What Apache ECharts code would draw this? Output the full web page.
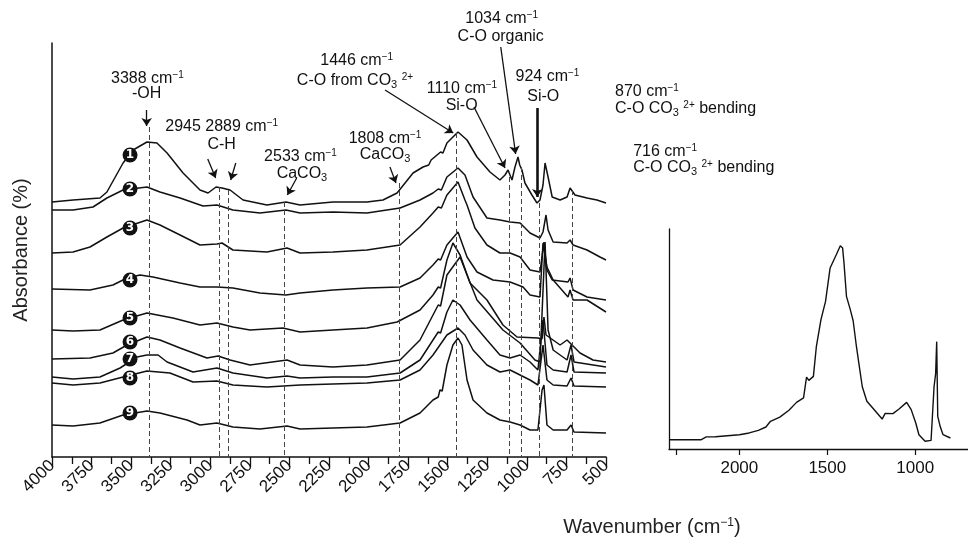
<!DOCTYPE html>
<html><head><meta charset="utf-8">
<script src="https://cdn.jsdelivr.net/npm/echarts@6/dist/echarts.min.js"></script>
<style>html,body{margin:0;padding:0;background:#fff}#c{width:968px;height:542px}</style>
</head><body><div id="c"></div>
<script>
// ---------- data (wavenumber cm-1, offset absorbance, arbitrary units) ----------
const spectrum1 = [[4000,255],[3867,257],[3697,259],[3653,265],[3551,294],[3488,307],[3400,315],[3337,314],[3273,304],[3172,284],[3065,267],[3014,264],[2964,270],[2926,269],[2875,267],[2793,257],[2642,252],[2522,255],[2433,252],[2225,255],[2010,255],[1909,257],[1820,264],[1719,284],[1656,290],[1620,292],[1605,297],[1593,297],[1545,305],[1530,304],[1505,314],[1435,325],[1378,317],[1315,300],[1233,285],[1170,277],[1138,282],[1119,287],[1094,277],[1075,290],[1056,300],[1045,292],[1031,287],[1012,274],[968,262],[936,254],[917,257],[898,272],[885,294],[866,280],[840,260],[790,257],[746,260],[727,269],[696,262],[620,259],[557,257],[500,254]];
const spectrum2 = [[4000,247],[3867,247],[3741,250],[3653,259],[3551,267],[3400,270],[3318,265],[3191,259],[3046,251],[2958,252],[2857,247],[2686,244],[2522,247],[2433,244],[2225,245],[2010,244],[1801,249],[1675,257],[1593,264],[1560,268],[1540,267],[1505,280],[1435,289],[1391,282],[1340,260],[1252,239],[1170,237],[1106,235],[1043,234],[980,224],[917,219],[898,225],[879,242],[866,227],[834,215],[746,214],[727,217],[708,212],[620,207],[538,200],[500,197]];
const spectrum3 = [[4000,204],[3867,205],[3760,210],[3653,220],[3551,229],[3400,237],[3318,232],[3191,222],[3065,212],[2958,213],[2926,214],[2857,207],[2642,205],[2515,209],[2433,204],[2225,205],[2010,207],[1801,212],[1675,230],[1593,244],[1560,250],[1540,249],[1505,262],[1435,275],[1391,257],[1378,252],[1328,229],[1252,212],[1170,204],[1106,204],[1043,200],[980,187],[917,185],[892,215],[873,187],[840,177],[740,175],[727,179],[708,167],[620,160],[500,157]];
const spectrum4 = [[4000,168],[3760,167],[3615,172],[3526,179],[3444,182],[3362,180],[3191,174],[3065,170],[2958,170],[2857,169],[2686,164],[2522,162],[2433,164],[2225,167],[2010,169],[1801,170],[1675,179],[1593,192],[1560,198],[1545,197],[1505,212],[1435,225],[1378,200],[1315,185],[1214,177],[1106,175],[1024,170],[980,162],[917,160],[898,214],[873,190],[834,177],[740,160],[727,167],[708,157],[620,157],[500,145]];
const spectrum5 = [[4000,127],[3867,126],[3697,127],[3551,137],[3400,144],[3236,139],[3065,132],[2958,134],[2857,130],[2749,127],[2541,129],[2433,125],[2225,127],[2010,129],[1820,135],[1675,147],[1593,162],[1560,170],[1545,169],[1505,197],[1467,214],[1422,202],[1359,174],[1252,157],[1151,132],[1062,120],[930,119],[904,118],[892,140],[879,122],[790,112],[746,117],[664,104],[582,97],[500,95]];
const spectrum6 = [[4000,98],[3760,99],[3615,104],[3526,112],[3400,120],[3318,117],[3191,109],[3021,99],[2951,101],[2875,97],[2749,92],[2515,97],[2433,92],[2225,90],[2010,92],[1801,97],[1675,117],[1593,142],[1560,152],[1545,151],[1505,182],[1422,200],[1378,182],[1315,157],[1233,142],[1151,127],[1043,114],[949,97],[917,95],[885,215],[866,127],[834,107],[746,97],[721,112],[702,95],[500,90]];
const spectrum7 = [[4000,80],[3867,78],[3697,80],[3570,89],[3463,100],[3400,102],[3330,102],[3273,95],[3109,85],[2958,89],[2857,84],[2642,79],[2515,81],[2433,79],[2225,80],[2010,80],[1801,84],[1675,97],[1593,117],[1560,125],[1545,124],[1505,145],[1467,157],[1422,152],[1359,137],[1252,117],[1170,102],[1106,99],[1043,102],[980,95],[930,87],[898,137],[873,92],[834,87],[746,85],[721,102],[702,85],[500,84]];
const spectrum8 = [[4000,74],[3867,72],[3697,74],[3551,80],[3400,86],[3255,84],[3109,75],[2958,76],[2857,72],[2642,70],[2433,72],[2225,73],[2010,74],[1801,77],[1675,87],[1593,102],[1505,122],[1435,129],[1391,122],[1340,107],[1252,92],[1170,85],[1106,87],[1043,82],[980,77],[930,72],[898,112],[873,77],[834,72],[746,71],[721,79],[702,71],[500,70]];
const spectrum9 = [[4000,32],[3867,31],[3697,34],[3551,42],[3400,46],[3318,44],[3147,37],[3065,32],[2958,34],[2857,30],[2686,28],[2515,31],[2433,28],[2225,29],[2010,30],[1801,34],[1675,44],[1593,57],[1560,60],[1549,67],[1535,66],[1505,92],[1467,112],[1435,119],[1410,112],[1378,77],[1340,57],[1252,44],[1170,37],[1106,35],[1043,32],[980,27],[930,27],[904,67],[892,72],[873,32],[834,27],[746,27],[721,32],[702,25],[500,24]];
const spectra = [spectrum1,spectrum2,spectrum3,spectrum4,spectrum5,spectrum6,spectrum7,spectrum8,spectrum9];

// numbered sample markers: [wavenumber, value]
const sampleNames = ['1','2','3','4','5','6','7','8','9'];
const sampleMarkers = [[3507,302],[3507,268],[3507,229],[3507,177],[3507,139],[3507,115],[3507,98],[3507,79],[3507,44]];

// assigned bands: [wavenumber, top of dashed guide]
const bandLines = [[3388,330],[2945,270],[2889,267],[2533,255],[1808,274],[1446,324],[1110,280],[1034,290],[924,254],[716,267]];

// annotation arrows: [[from], [to], width]
const arrows = [
  [[3402,347],[3402,331],1.3],
  [[3016,298],[2966,279],1.3],
  [[2839,294],[2871,277],1.3],
  [[2454,279],[2513,262],1.3],
  [[1865,290],[1827,274],1.3],
  [[1896,367],[1465,324],1.3],
  [[1334,350],[1138,289],1.3],
  [[1165,410],[1071,303],1.3],
  [[934,349],[934,260],2.6],
  [[475,347],[858,298],1.3],
  [[369,293],[685,274],1.3]
];

// annotation texts: [wavenumber, value, text, align]
const annotations = [
  [3397,378,'3388 cm{sup|−1}','center'],
  [3402,363,'-OH','center'],
  [2928,330,'2945 2889 cm{sup|−1}','center'],
  [2928,312,'C-H','center'],
  [2430,300,'2533 cm{sup|−1}','center'],
  [2421,283,'CaCO{sub|3}','center'],
  [2075,396,'1446 cm{sup|−1}','center'],
  [2086,376,'C-O from CO{sub|3} {sup|2+}','center'],
  [1896,318,'1808 cm{sup|−1}','center'],
  [1896,302,'CaCO{sub|3}','center'],
  [1410,368,'1110 cm{sup|−1}','center'],
  [1412,351,'Si-O','center'],
  [1159,438,'1034 cm{sup|−1}','center'],
  [1165,420,'C-O organic','center'],
  [870,380,'924 cm{sup|−1}','center'],
  [896,360,'Si-O','center'],
  [443,365,'870 cm{sup|−1}','left'],
  [443,348,'C-O CO{sub|3} {sup|2+} bending','left'],
  [328,305,'716 cm{sup|−1}','left'],
  [328,289,'C-O CO{sub|3} {sup|2+} bending','left']
];

// inset reference spectrum
const insetSpectrum = [[2400,4.2],[2219,4.2],[2188,5.5],[2136,5.6],[2000,6.5],[1944,7.3],[1892,8.5],[1849,10],[1823,12.6],[1770,14.5],[1718,17.6],[1675,21.2],[1635,23.2],[1618,32.7],[1605,31.2],[1579,33],[1562,46.7],[1536,58.8],[1510,67.1],[1484,82.3],[1449,88.3],[1426,92.4],[1413,91.4],[1405,84.5],[1391,69.4],[1370,63.6],[1353,58.3],[1336,47.6],[1318,37.6],[1301,28.3],[1275,21.7],[1232,17.7],[1188,13.6],[1171,16.2],[1127,16.1],[1092,18.2],[1049,21.2],[1023,17.9],[997,11.8],[979,6.5],[944,3.5],[910,3.9],[893,28.3],[884,34.2],[878,48.8],[872,14.8],[858,10.2],[842,6.5],[800,5]];
const insetTicks = [2360,2000,1500,1000];
const insetLabels = [2000,1500,1000];

// ---------- chart ----------
const F = "'Liberation Sans','Arimo',Arial,sans-serif";
const INK = '#111';
const rich = {
  sup:{fontSize:10, fontFamily:F, color:INK, verticalAlign:'top', lineHeight:10},
  sub:{fontSize:11, fontFamily:F, color:INK, verticalAlign:'bottom', lineHeight:11}
};
const chart = echarts.init(document.getElementById('c'), null, {renderer:'canvas'});
const plain = v => String(v);

const series = spectra.map((d,i)=>({
  type:'line', name:'S'+(i+1), xAxisIndex:0, yAxisIndex:0, data:d,
  showSymbol:false, symbol:'none', smooth:false, silent:true,
  lineStyle:{color:INK, width:1.5}, z:3
}));

series.push({
  type:'scatter', xAxisIndex:0, yAxisIndex:0, silent:true, z:5,
  symbol:'circle', symbolSize:15, itemStyle:{color:INK, opacity:1},
  data: sampleMarkers.map((p,i)=>({value:p, name:sampleNames[i]})),
  label:{show:true, position:'inside', formatter:p=>p.name, color:'#fff', fontSize:12, fontWeight:'bold', fontFamily:"'DejaVu Sans',sans-serif", opacity:1},
  markLine:{
    silent:true, animation:false, symbol:['none','none'], label:{show:false},
    lineStyle:{type:[5,3], color:'#444', width:1, opacity:1},
    data: bandLines.map(([w,t])=>[{coord:[w,t]},{coord:[w,0]}])
  }
});

series.push({
  type:'scatter', xAxisIndex:0, yAxisIndex:0, silent:true, z:6, clip:false,
  symbolSize:1, itemStyle:{color:'rgba(0,0,0,0)', opacity:1},
  data: annotations.map(a=>({value:[a[0],a[1]], label:{formatter:a[2], align:a[3]}})),
  label:{show:true, position:'inside', color:INK, fontSize:16, fontFamily:F, lineHeight:18, rich:rich, opacity:1},
  markLine:{
    silent:true, animation:false, symbol:['none','arrow'], symbolSize:8, label:{show:false},
    lineStyle:{type:'solid', color:INK, width:1.3, opacity:1},
    data: arrows.map(([a,b,w])=>[{coord:a, lineStyle:{width:w, color:INK, type:'solid'}},{coord:b}])
  }
});

series.push({
  type:'line', xAxisIndex:1, yAxisIndex:1, data:insetSpectrum, showSymbol:false, symbol:'none',
  silent:true, lineStyle:{color:INK, width:1.4}, clip:true
});

chart.setOption({
  animation:false,
  backgroundColor:'#fff',
  grid:[
    {left:52, top:43, width:554, height:414},
    {left:669, top:229, width:326, height:220}
  ],
  xAxis:[
    {type:'value', gridIndex:0, min:500, max:4000, interval:250, inverse:true,
     axisLine:{show:true, onZero:false, lineStyle:{color:INK, width:1.5}},
     axisTick:{show:true, length:10, lineStyle:{color:INK, width:1.3}},
     minorTick:{show:true, splitNumber:2, length:7, lineStyle:{color:INK, width:1.3}},
     splitLine:{show:false}, minorSplitLine:{show:false},
     axisLabel:{rotate:45, fontSize:17, fontFamily:F, color:INK, margin:6, formatter:plain}},
    {type:'value', gridIndex:1, min:700, max:2400, inverse:true,
     axisLine:{show:true, onZero:false, lineStyle:{color:INK, width:1.3}},
     axisTick:{show:true, length:6, customValues:insetTicks, lineStyle:{color:INK, width:1.2}},
     splitLine:{show:false},
     axisLabel:{customValues:insetLabels, fontSize:17, fontFamily:F, color:INK, margin:11, formatter:plain}}
  ],
  yAxis:[
    {type:'value', gridIndex:0, min:0, max:414,
     axisLine:{show:true, onZero:false, lineStyle:{color:INK, width:1.5}},
     axisTick:{show:false}, axisLabel:{show:false}, splitLine:{show:false},
     name:'Absorbance (%)', nameLocation:'middle', nameGap:21,
     nameTextStyle:{fontSize:20, fontFamily:F, color:'#222'}},
    {type:'value', gridIndex:1, min:0, max:100,
     axisLine:{show:true, onZero:false, lineStyle:{color:INK, width:1.3}},
     axisTick:{show:false}, axisLabel:{show:false}, splitLine:{show:false}}
  ],
  graphic:[
    {type:'text', x:652, y:527, silent:true,
     style:{text:'Wavenumber (cm{sup|−1})', align:'center', verticalAlign:'middle', fontSize:20, fontFamily:F, fill:'#222',
            rich:{sup:{fontSize:12, fontFamily:F, fill:'#222', verticalAlign:'top', lineHeight:12}}}}
  ],
  series:series
});
</script></body></html>
